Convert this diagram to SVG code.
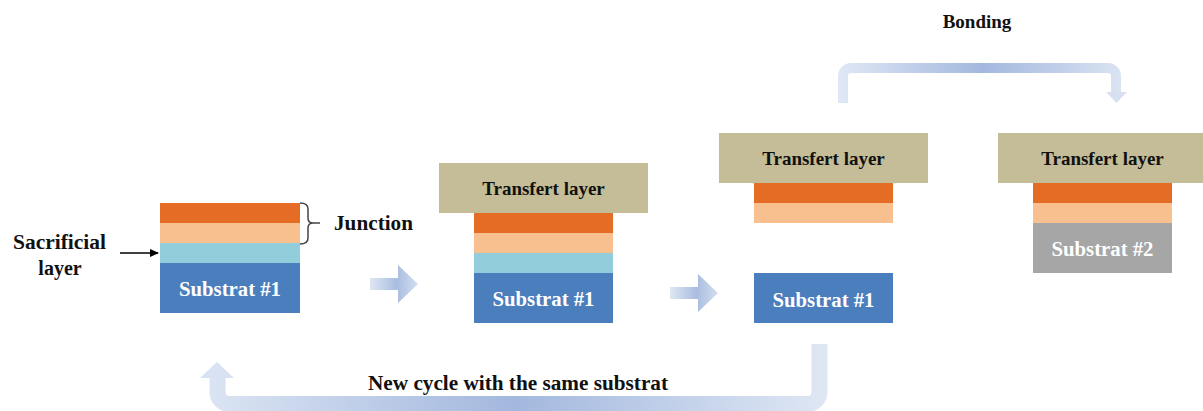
<svg xmlns="http://www.w3.org/2000/svg" width="1203" height="411" viewBox="0 0 1203 411">
<style>
text{font-family:"Liberation Serif","Times New Roman",serif;font-weight:bold;}
.lbl{font-size:20px;fill:#111;}
.tl{font-size:19px;fill:#111;text-anchor:middle;}
.sub{font-size:20px;fill:#fff;text-anchor:middle;}
.or{fill:#E46C24;}
.pe{fill:#F8BF8F;}
.cy{fill:#92CDDC;}
.bl{fill:#4A7EBD;}
.kh{fill:#C4BD97;}
.gr{fill:#A6A6A6;}
</style>
<defs>
<linearGradient id="gArrow" x1="0" y1="0" x2="1" y2="0">
<stop offset="0" stop-color="#dfe7f4"/>
<stop offset="0.55" stop-color="#a9bde0"/>
<stop offset="1" stop-color="#d3def0"/>
</linearGradient>
<linearGradient id="gBond" gradientUnits="userSpaceOnUse" x1="838" y1="0" x2="1127" y2="0">
<stop offset="0" stop-color="#e0e8f5"/>
<stop offset="0.5" stop-color="#a2b8de"/>
<stop offset="1" stop-color="#dce5f3"/>
</linearGradient>
<linearGradient id="gCycle" gradientUnits="userSpaceOnUse" x1="200" y1="0" x2="828" y2="0">
<stop offset="0" stop-color="#dce5f3"/>
<stop offset="0.5" stop-color="#a3b8de"/>
<stop offset="1" stop-color="#dfe7f4"/>
</linearGradient>
<marker id="ah" markerWidth="10" markerHeight="10" refX="8" refY="5" orient="auto" markerUnits="userSpaceOnUse">
<path d="M0,1 L9,5 L0,9 Z" fill="#000"/>
</marker>
</defs>

<g id="connectors">
<path d="M370,278 H398 V265 L418,284 L398,303 V290 H370 Z" fill="url(#gArrow)"/>
<path d="M670,287 H698 V274 L718,293 L698,312 V299 H670 Z" fill="url(#gArrow)"/>
<path d="M843,103 V76 A8,8 0 0 1 851,68 H1108 A8,8 0 0 1 1116,76 V93" fill="none" stroke="url(#gBond)" stroke-width="10"/>
<polygon points="1106,92 1127,92 1116.5,103" fill="#d6e0f1"/>
<path d="M819.5,344 V392 A12,12 0 0 1 807.5,404 H229.5 A12,12 0 0 1 217.5,392 V377" fill="none" stroke="url(#gCycle)" stroke-width="16"/>
<polygon points="200,378 234,378 217,362" fill="#d8e2f2"/>
<line x1="120" y1="253" x2="158" y2="253" stroke="#000" stroke-width="1.5" marker-end="url(#ah)"/>
<path d="M300,203 Q308,203 308,209 V218 Q308,223 313,223 H320 M313,223 Q308,223 308,228 V238 Q308,244 300,244" fill="none" stroke="#444" stroke-width="1.5"/>
</g>

<g id="stack1">
<rect class="or" x="160" y="203" width="140" height="20"/>
<rect class="pe" x="160" y="223" width="140" height="20"/>
<rect class="cy" x="160" y="243" width="140" height="20"/>
<rect class="bl" x="160" y="263" width="140" height="50"/>
<text class="sub" x="230" y="296" textLength="102" lengthAdjust="spacingAndGlyphs">Substrat #1</text>
</g>

<g id="label-sacrificial">
<text class="lbl" x="13" y="249" textLength="93" lengthAdjust="spacingAndGlyphs">Sacrificial</text>
<text class="lbl" x="60" y="275" text-anchor="middle">layer</text>
</g>
<g id="label-junction">
<text class="lbl" x="334" y="230" textLength="79" lengthAdjust="spacingAndGlyphs">Junction</text>
</g>

<g id="stack2">
<rect class="kh" x="439" y="163" width="209" height="50"/>
<text class="tl" x="543.5" y="195">Transfert layer</text>
<rect class="or" x="474" y="213" width="139" height="20"/>
<rect class="pe" x="474" y="233" width="139" height="20"/>
<rect class="cy" x="474" y="253" width="139" height="20"/>
<rect class="bl" x="474" y="273" width="139" height="50"/>
<text class="sub" x="543.5" y="306" textLength="102" lengthAdjust="spacingAndGlyphs">Substrat #1</text>
</g>

<g id="stack3">
<rect class="kh" x="719" y="133" width="209" height="50"/>
<text class="tl" x="823.5" y="165">Transfert layer</text>
<rect class="or" x="754" y="183" width="139" height="20"/>
<rect class="pe" x="754" y="203" width="139" height="20"/>
</g>

<g id="substrate1-released">
<rect class="bl" x="754" y="273" width="139" height="50"/>
<text class="sub" x="823.5" y="307" textLength="102" lengthAdjust="spacingAndGlyphs">Substrat #1</text>
</g>

<g id="stack4">
<rect class="kh" x="998" y="133" width="209" height="50"/>
<text class="tl" x="1102.5" y="165">Transfert layer</text>
<rect class="or" x="1033" y="183" width="139" height="20"/>
<rect class="pe" x="1033" y="203" width="139" height="20"/>
<rect class="gr" x="1033" y="223" width="139" height="50"/>
<text class="sub" x="1102.5" y="256" textLength="102" lengthAdjust="spacingAndGlyphs">Substrat #2</text>
</g>

<g id="label-bonding">
<text class="tl" x="977" y="28">Bonding</text>
</g>
<g id="label-cycle">
<text class="lbl" x="518" y="390" text-anchor="middle" textLength="300" lengthAdjust="spacingAndGlyphs">New cycle with the same substrat</text>
</g>
</svg>
